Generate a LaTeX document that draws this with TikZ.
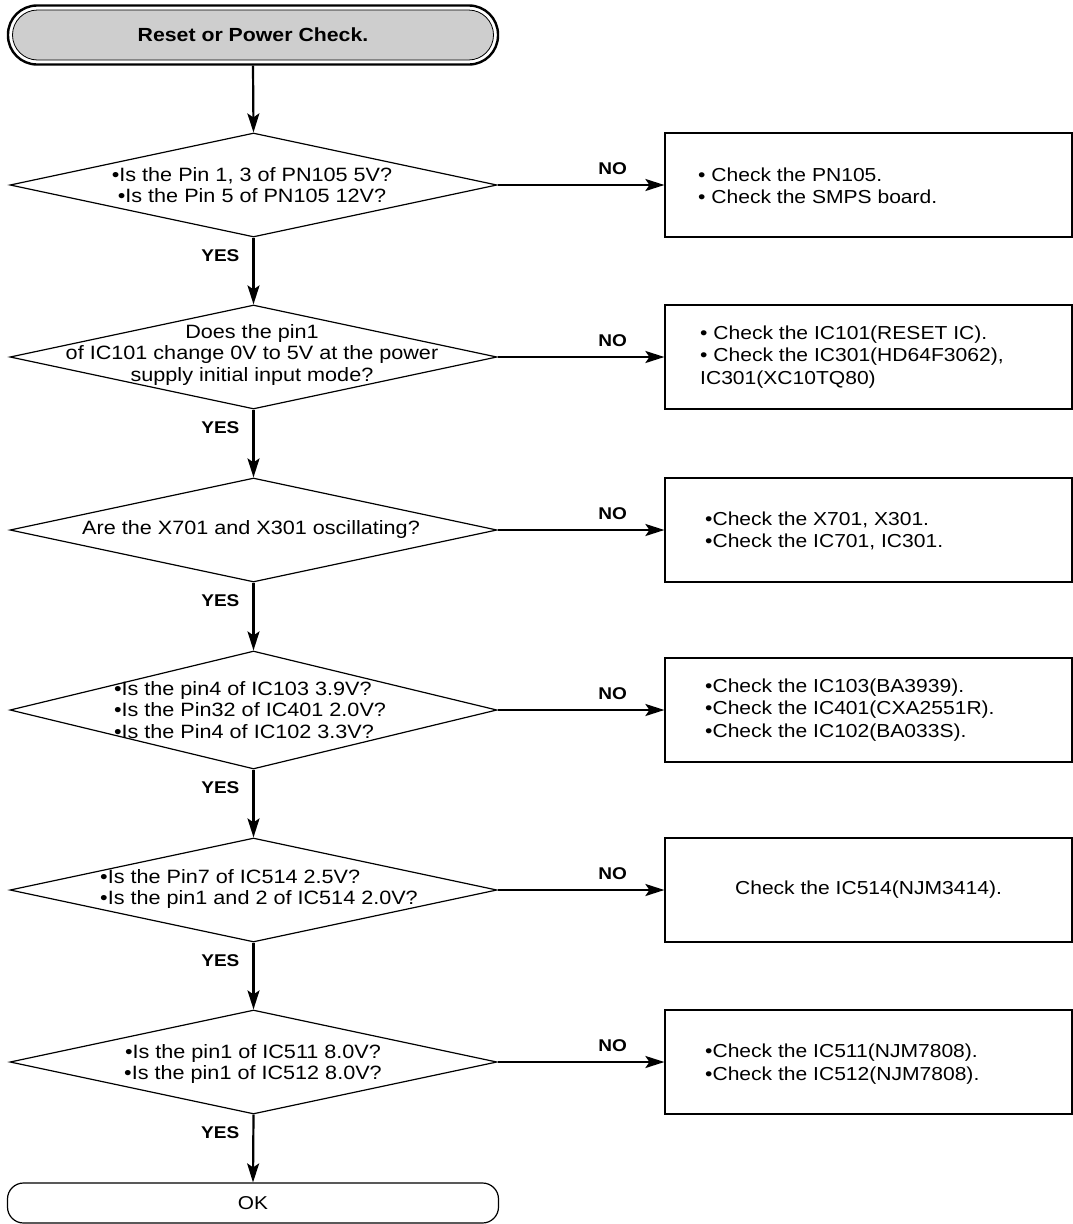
\documentclass[tikz,border=0pt]{standalone}
\usepackage{fontspec}
\setmainfont{Liberation Sans}[FakeStretch=1.12]
\usetikzlibrary{shapes.geometric,arrows.meta}
\definecolor{termgray}{RGB}{206,206,206}
\begin{document}
\begin{tikzpicture}[x=1pt,y=-1pt,
  dec/.style={draw,line width=1.2pt,shape=diamond,minimum width=487pt,minimum height=104pt,inner sep=0pt},
  dtxt/.style={inner sep=0pt,align=center,font=\fontsize{19.3}{21.5}\selectfont},
  chk/.style={draw,line width=1.2pt,minimum width=407pt,minimum height=104pt,inner sep=0pt,font=\fontsize{18.8}{22}\selectfont},
  txt/.style={anchor=west,align=left,inner sep=0pt,font=\fontsize{18.8}{22.5}\selectfont},
  lbl/.style={font=\bfseries\fontsize{17}{17}\selectfont,inner sep=0pt},
  flow/.style={line width=2.2pt,-{Stealth[length=19pt,width=12pt,inset=4pt]}},
]
\useasboundingbox (0,0) rectangle (1072,1224);

% start terminal
\node[draw,line width=2.4pt,rounded corners=29pt,minimum width=490pt,minimum height=59pt,inner sep=0pt] (t) at (253,35) {};
\node[draw,line width=0.8pt,fill=termgray,rounded corners=25pt,minimum width=481pt,minimum height=50pt,inner sep=0pt,font=\bfseries\fontsize{19}{19}\selectfont] (tt) at (253,35) {Reset or Power Check.};

% decisions
\node[dec] (d1) at (253.5,185) {};
\node[dec] (d2) at (253.5,357) {};
\node[dec] (d3) at (253.5,530) {};
\node[dec,minimum height=118pt] (d4) at (253.5,710) {};
\node[dec] (d5) at (253.5,890) {};
\node[dec] (d6) at (253.5,1062) {};

\node[dtxt] (q1) at (252,185) {•Is the Pin 1, 3 of PN105 5V?\\•Is the Pin 5 of PN105 12V?};
\node[dtxt] (q2) at (252,355) {Does the pin1\\of IC101 change 0V to 5V at the power\\supply initial input mode?};
\node[dtxt] (q3) at (251,530) {Are the X701 and X301 oscillating?};
\node[dtxt,align=left] (q4) at (250,710) {•Is the pin4 of IC103 3.9V?\\•Is the Pin32 of IC401 2.0V?\\•Is the Pin4 of IC102 3.3V?};
\node[dtxt,align=left] (q5) at (259,889) {•Is the Pin7 of IC514 2.5V?\\•Is the pin1 and 2 of IC514 2.0V?};
\node[dtxt] (q6) at (253,1064) {•Is the pin1 of IC511 8.0V?\\•Is the pin1 of IC512 8.0V?};

% check boxes
\node[chk] (b1) at (868.5,185) {};
\node[chk] (b2) at (868.5,357) {};
\node[chk] (b3) at (868.5,530) {};
\node[chk] (b4) at (868.5,710) {};
\node[chk] (b5) at (868.5,890) {Check the IC514(NJM3414).};
\node[chk] (b6) at (868.5,1062) {};

\node[txt] (t1) at (698,186) {• Check the PN105.\\• Check the SMPS board.};
\node[txt] (t2) at (700,357) {• Check the IC101(RESET IC).\\• Check the IC301(HD64F3062),\\IC301(XC10TQ80)};
\node[txt] (t3) at (705,531) {•Check the X701, X301.\\•Check the IC701, IC301.};
\node[txt] (t4) at (705,710) {•Check the IC103(BA3939).\\•Check the IC401(CXA2551R).\\•Check the IC102(BA033S).};
\node[txt] (t6) at (705,1064) {•Check the IC511(NJM7808).\\•Check the IC512(NJM7808).};

% end terminal
\node[draw,line width=1.2pt,rounded corners=16pt,minimum width=491pt,minimum height=40pt,inner sep=0pt,font=\fontsize{18.6}{20}\selectfont] (ok) at (253,1203) {OK};

% connectors
\draw[flow] (t.south) -- (d1.north);
\foreach \a/\b in {d1/d2,d2/d3,d3/d4,d4/d5,d5/d6,d6/ok}{
  \draw[flow] (\a.south) -- (\b.north) node[lbl,pos=0.27,left=13pt]{YES};
}
\foreach \a/\b in {d1/b1,d2/b2,d3/b3,d4/b4,d5/b5,d6/b6}{
  \draw[flow] (\a.east) -- (\b.west) node[lbl,pos=0.69,above=9pt]{NO};
}
\end{tikzpicture}
\end{document}
